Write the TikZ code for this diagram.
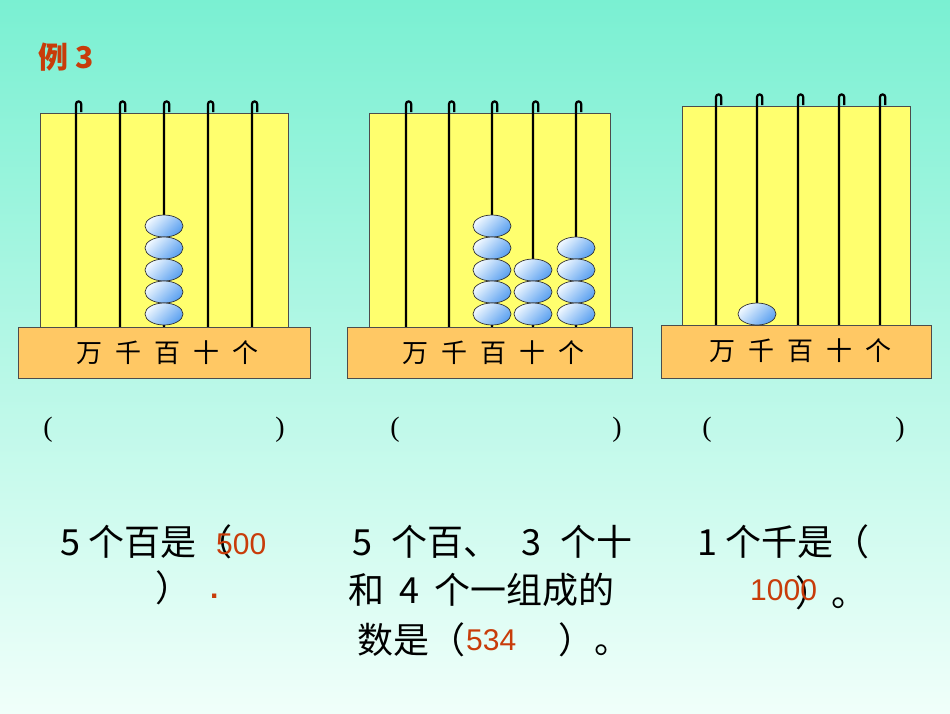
\documentclass[tikz,border=0pt]{standalone}
\usepackage{fontspec}
\usetikzlibrary{shapes.geometric}
\setmainfont{Liberation Serif}
\newfontfamily\cjk{Noto Sans CJK SC}
\newfontfamily\arial{Liberation Sans}
\definecolor{bgtop}{RGB}{122,240,210}
\definecolor{bgbot}{RGB}{240,255,250}
\definecolor{board}{RGB}{255,255,110}
\definecolor{basec}{RGB}{255,200,100}
\definecolor{ans}{RGB}{200,60,10}
\definecolor{beadl}{RGB}{240,248,255}
\definecolor{beadd}{RGB}{90,160,240}
\begin{document}
\begin{tikzpicture}[x=1pt,y=-1pt,
  rod/.style={line width=2.2pt},
  bead/.style={ellipse,draw=black!80,line width=0.7pt,minimum width=38pt,minimum height=22pt,inner sep=0pt,left color=beadl,right color=beadd,shading angle=45},
  boardbox/.style={fill=board,draw=black!70,line width=0.6pt},
  basebox/.style={fill=basec,draw=black!70,line width=0.6pt},
  lab/.style={font=\cjk\fontsize{26}{28}\selectfont},
  big/.style={font=\cjk\fontsize{36}{40}\selectfont,anchor=west,inner sep=0pt},
  red/.style={font=\arial\fontsize{30}{32}\selectfont,text=ans,anchor=west,inner sep=0pt},
  par/.style={font=\fontsize{28}{30}\selectfont,inner sep=0pt}]
\shade[top color=bgtop,bottom color=bgbot] (0,0) rectangle (950,713);
\useasboundingbox (0,0) rectangle (950,713);
\node[text=ans,font=\cjk\bfseries\fontsize{30}{32}\selectfont,anchor=west,inner sep=0pt] (ex) at (38,57) {例 \textbf{3}};
\newcommand\myrod[3]{\draw[rod] (#1,#3) -- (#1,#2+4) arc[start angle=180,end angle=360,radius=2.6] -- (#1+5.2,#2+12);}
\newcommand\mylabels{万\hspace{0.5em}千\hspace{0.5em}百\hspace{0.5em}十\hspace{0.5em}个}
% abacus 1
\draw[boardbox] (40,113) rectangle (288,328);
\foreach \x in {76,120,164,208,252} {\myrod{\x}{100}{327}}
\draw[basebox] (18,327) rectangle (310,378);
\node[lab] (l1) at (167,353) {\mylabels};
\foreach \y in {226,248,270,292,314} \node[bead] (a\y) at (164,\y) {};
% abacus 2
\draw[boardbox] (369,113) rectangle (610,328);
\foreach \x in {406,449,492,533,576} {\myrod{\x}{100}{327}}
\draw[basebox] (347,327) rectangle (632,378);
\node[lab] (l2) at (493,353) {\mylabels};
\foreach \y in {226,248,270,292,314} \node[bead] (b\y) at (492,\y) {};
\foreach \y in {270,292,314} \node[bead] (c\y) at (533,\y) {};
\foreach \y in {248,270,292,314} \node[bead] (d\y) at (576,\y) {};
% abacus 3
\draw[boardbox] (682,106) rectangle (910,328);
\foreach \x in {716,757,798,839,880} {\myrod{\x}{93}{327}}
\draw[basebox] (661,325) rectangle (931,378);
\node[lab] (l3) at (800,351) {\mylabels};
\node[bead] (e1) at (757,314) {};
% parentheses
\node[par] (p1) at (48,430) {(}; \node[par] (p2) at (280,430) {)};
\node[par] (p3) at (395,430) {(}; \node[par] (p4) at (617,430) {)};
\node[par] (p5) at (707,430) {(}; \node[par] (p6) at (900,430) {)};
% texts
\node[big] (t1) at (60,542) {5 个百是（};
\node[big] (t2) at (155,588) {）};
\node[red] (r1) at (216,544) {500};
\node[red,font=\arial\bfseries\fontsize{30}{32}\selectfont] (r1d) at (210,596) {.};
\node[big] (t3) at (352,542) {5\hspace{0.3em} 个百、\hspace{0.4em} 3\hspace{0.3em} 个十};
\node[big] (t4) at (348,590) {和\hspace{0.2em} 4\hspace{0.2em} 个一组成的};
\node[big] (t5) at (357,640) {数是（\hspace{2.6em}）。};
\node[red] (r2) at (466,640) {534};
\node[big] (t6) at (697,542) {1 个千是（};
\node[big] (t7) at (795,593) {）。};
\node[red] (r3) at (750,590) {1000};
\end{tikzpicture}
\end{document}
